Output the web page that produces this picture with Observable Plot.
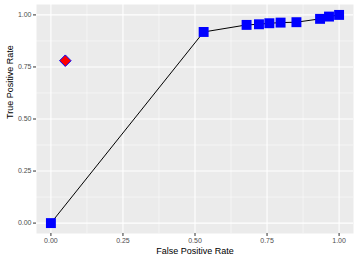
<!DOCTYPE html>
<html><head><meta charset="utf-8">
<script src="https://cdn.jsdelivr.net/npm/d3@7"></script>
<script src="https://cdn.jsdelivr.net/npm/@observablehq/plot@0.6"></script>
<style>body{margin:0;background:#fff;}</style>
</head><body><div id="chart"></div>
<script>
const fpr = [0, 0.53, 0.679, 0.722, 0.758, 0.797, 0.852, 0.934, 0.965, 1.0];
const tpr = [0, 0.918, 0.952, 0.955, 0.960, 0.963, 0.965, 0.981, 0.992, 1.0];
const pointFpr = [0.05];
const pointTpr = [0.78];
const ticks = [0, 0.25, 0.5, 0.75, 1];
const minorTicks = [0.125, 0.375, 0.625, 0.875];

const curve = fpr.map((x, i) => ({x, y: tpr[i]}));
const single = pointFpr.map((x, i) => ({x, y: pointTpr[i]}));
const font = "Liberation Sans, Arial, sans-serif";

const chart = Plot.plot({
  width: 357, height: 261,
  marginLeft: 36, marginRight: 4, marginTop: 4, marginBottom: 28,
  style: {fontFamily: font, background: "#fff"},
  x: {domain: [-0.05, 1.05]},
  y: {domain: [-0.05, 1.05]},
  marks: [
    Plot.frame({fill: "#EBEBEB", stroke: null}),
    Plot.ruleX(minorTicks, {stroke: "#fff", strokeWidth: 0.5}),
    Plot.ruleY(minorTicks, {stroke: "#fff", strokeWidth: 0.5}),
    Plot.ruleX(ticks, {stroke: "#fff", strokeWidth: 1.1}),
    Plot.ruleY(ticks, {stroke: "#fff", strokeWidth: 1.1}),
    Plot.axisX({ticks, tickFormat: d3.format(".2f"), tickSize: 3, tickPadding: 2, stroke: "#333", color: "#4D4D4D", fontSize: 7, label: null}),
    Plot.axisY({ticks, tickFormat: d3.format(".2f"), tickSize: 3, tickPadding: 2, stroke: "#333", color: "#4D4D4D", fontSize: 7, label: null}),
    Plot.text(["False Positive Rate"], {frameAnchor: "bottom", dy: 20, fontSize: 9, fill: "#000", fontFamily: font}),
    Plot.text(["True Positive Rate"], {frameAnchor: "left", dx: -26, rotate: -90, fontSize: 9, fill: "#000", fontFamily: font}),
    Plot.line(curve, {x: "x", y: "y", stroke: "#000", strokeWidth: 1}),
    Plot.dot(curve, {x: "x", y: "y", symbol: "square", r: 5.6, fill: "blue", stroke: null}),
    Plot.dot(single, {x: "x", y: "y", symbol: "diamond2", r: 5.2, fill: "red", stroke: "blue", strokeWidth: 1})
  ]
});
document.getElementById("chart").appendChild(chart);
</script></body></html>
